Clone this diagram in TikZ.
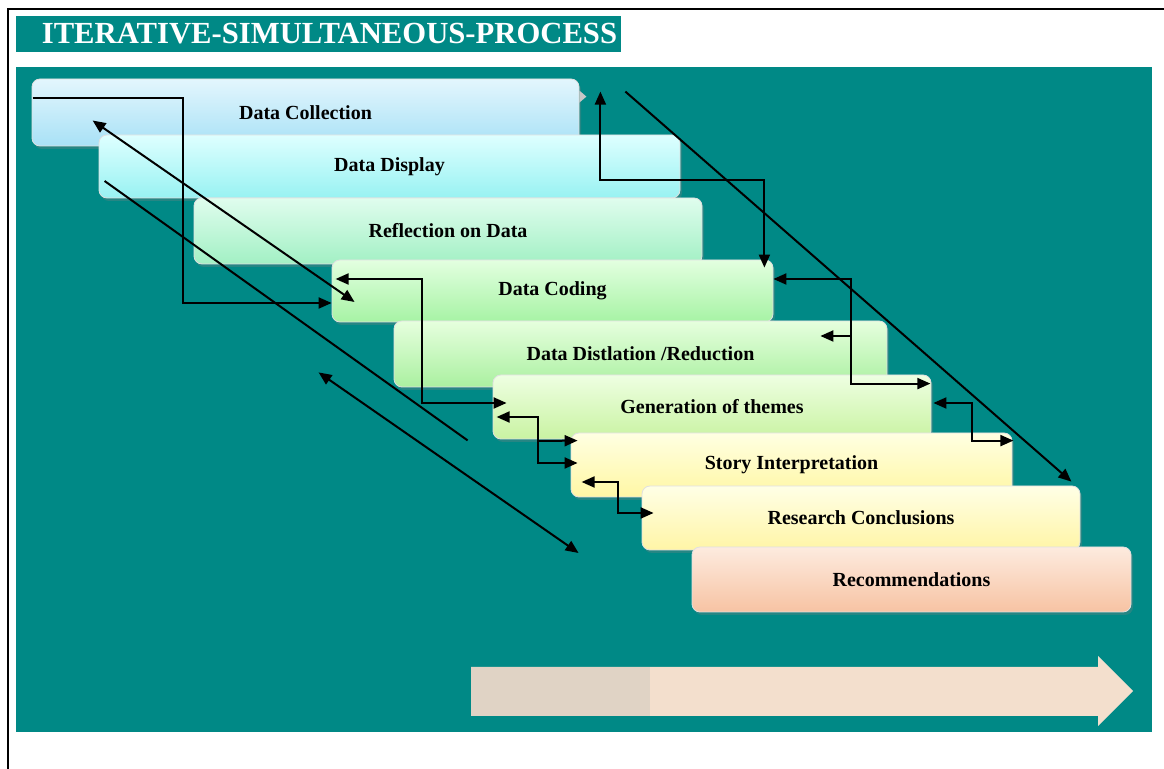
\documentclass[tikz,border=0pt]{standalone}
\usepackage{fontspec}
\setmainfont{Liberation Serif}
\usepackage{tikz}
\usetikzlibrary{arrows.meta}
\usetikzlibrary{calc}
\usetikzlibrary{shadows}

\definecolor{panel}{RGB}{0,137,134}
\definecolor{oneT}{HTML}{E3F6FD}\definecolor{oneB}{HTML}{A8E1F6}
\definecolor{twoT}{HTML}{DEFFFF}\definecolor{twoB}{HTML}{98F2F2}
\definecolor{threeT}{HTML}{E0FDEE}\definecolor{threeB}{HTML}{A2F0C4}
\definecolor{fourT}{HTML}{E3FFE0}\definecolor{fourB}{HTML}{A6F3A4}
\definecolor{fiveT}{HTML}{E6FFDE}\definecolor{fiveB}{HTML}{AAF0A0}
\definecolor{sixT}{HTML}{EEFFE2}\definecolor{sixB}{HTML}{C9F3A2}
\definecolor{sevenT}{HTML}{FFFFE2}\definecolor{sevenB}{HTML}{FFF7A4}
\definecolor{eightT}{HTML}{FFFFE6}\definecolor{eightB}{HTML}{FFF5A6}
\definecolor{nineT}{HTML}{FDEBDF}\definecolor{nineB}{HTML}{F7C3A3}
\definecolor{barlight}{HTML}{F3DFCD}
\definecolor{bardark}{HTML}{E0D3C5}

\begin{document}
\begin{tikzpicture}[x=0.5pt,y=-0.5pt]
		\useasboundingbox (0,0) rectangle (1164,769);
		\fill[white] (0,0) rectangle (1164,769);
		\draw[line width=1.2pt] (8,769) -- (8,9) -- (1164,9);
		\fill[panel] (16,67) rectangle (1152,732);
		\node[fill=panel,text=white,inner xsep=0pt,minimum width=302.5pt,minimum height=18pt,
		      font=\fontsize{15.33}{18}\selectfont\bfseries] (title) at (318.5,34)
		      {\hspace*{11pt}ITERATIVE-SIMULTANEOUS-PROCESS};

		\begin{scope}[every node/.style={rounded corners=4pt,inner sep=0pt,draw=black!12,
		              drop shadow={opacity=0.3,shadow xshift=1pt,shadow yshift=-1.5pt},
		              font=\fontsize{10}{12}\selectfont\bfseries}]
			\node[top color=oneT,bottom color=oneB,minimum width=273.5pt,minimum height=33.5pt] (1) at (305.5,112.5) {Data Collection};
			\fill[black!22] ($(1.north east)+(0,12)$) -- ++(7,6) -- ++(-7,6) -- cycle;
			\node[top color=twoT,bottom color=twoB,minimum width=290.5pt,minimum height=31.5pt] (2) at (389.5,166.5) {Data Display};
			\node[top color=threeT,bottom color=threeB,minimum width=254pt,minimum height=33pt] (3) at (448,231) {Reflection on Data};
			\node[top color=fourT,bottom color=fourB,minimum width=220.5pt,minimum height=31pt] (4) at (552.5,291) {Data Coding};
			\node[top color=fiveT,bottom color=fiveB,minimum width=246.5pt,minimum height=33pt] (5) at (640.5,354) {Data Distlation /Reduction};
			\node[top color=sixT,bottom color=sixB,minimum width=219pt,minimum height=32pt] (6) at (712,407) {Generation of themes};
			\node[top color=sevenT,bottom color=sevenB,minimum width=220.5pt,minimum height=32pt] (7) at (791.5,465) {Story Interpretation};
			\node[top color=eightT,bottom color=eightB,minimum width=219pt,minimum height=32pt] (8) at (861,518) {Research Conclusions};
			\node[top color=nineT,bottom color=nineB,minimum width=219.5pt,minimum height=32.5pt] (9) at (911.5,579.5) {Recommendations};
		\end{scope}

		\begin{scope}[>={Triangle[length=6.5pt,width=5.5pt]},line width=1pt]
			% diagonals
			\draw[<->] ($(1.west)+(61,8)$) -- ($(4.west)+(23,11)$);
			\draw ($(2.west)+(6,14.5)$) -- ($(6.south west)+(-25,1)$);
			\draw[<->] ($(5.south west)+(-75,-15)$) -- ($(9.west)+(-113,-26.5)$);
			\draw[->] ($(1.north east)+(46,13)$) -- ($(8.north east)+(-9,-4)$);
			% steps
			\draw[->] ($(1.north west)+(1,19)$) -- ++(150,0) |- ($(4.west)+(0,12)$);
			\draw[<->] ($(1.north east)+(21,13)$) -- ++(0,88) -| ($(4.north east)+(-9,8)$);
			\draw[<->] ($(4.east)+(0,-12)$) -- ++(78,0) |- ($(6.north east)+(-1,9)$);
			\draw[->] ($(5.east)+(-36,-18)$) -- ++(-31,0);
			\draw[<->] ($(6.east)+(2,-4)$) -- ++(39,0) |- ($(7.north east)+(1,8)$);
			\draw[<->] ($(4.west)+(4,-12)$) -- ++(86,0) |- ($(6.west)+(14,-4)$);
			\draw[<->] ($(6.west)+(4,10)$) -- ++(41,0) |- ($(7.west)+(7,-2)$);
			\draw[->] ($(6.west)+(45,34)$) -- ($(7.north west)+(7,8)$);
			\draw[<->] ($(7.west)+(11,17)$) -- ++(36,0) |- ($(8.west)+(12,-5)$);
		\end{scope}

		% time bar
		\fill[barlight] (471,667) -- (1098,667) -- (1098,656) -- (1133,691) -- (1098,726) -- (1098,716) -- (471,716) -- cycle;
		\fill[bardark] (471,667) rectangle (650,716);
\end{tikzpicture}
\end{document}
